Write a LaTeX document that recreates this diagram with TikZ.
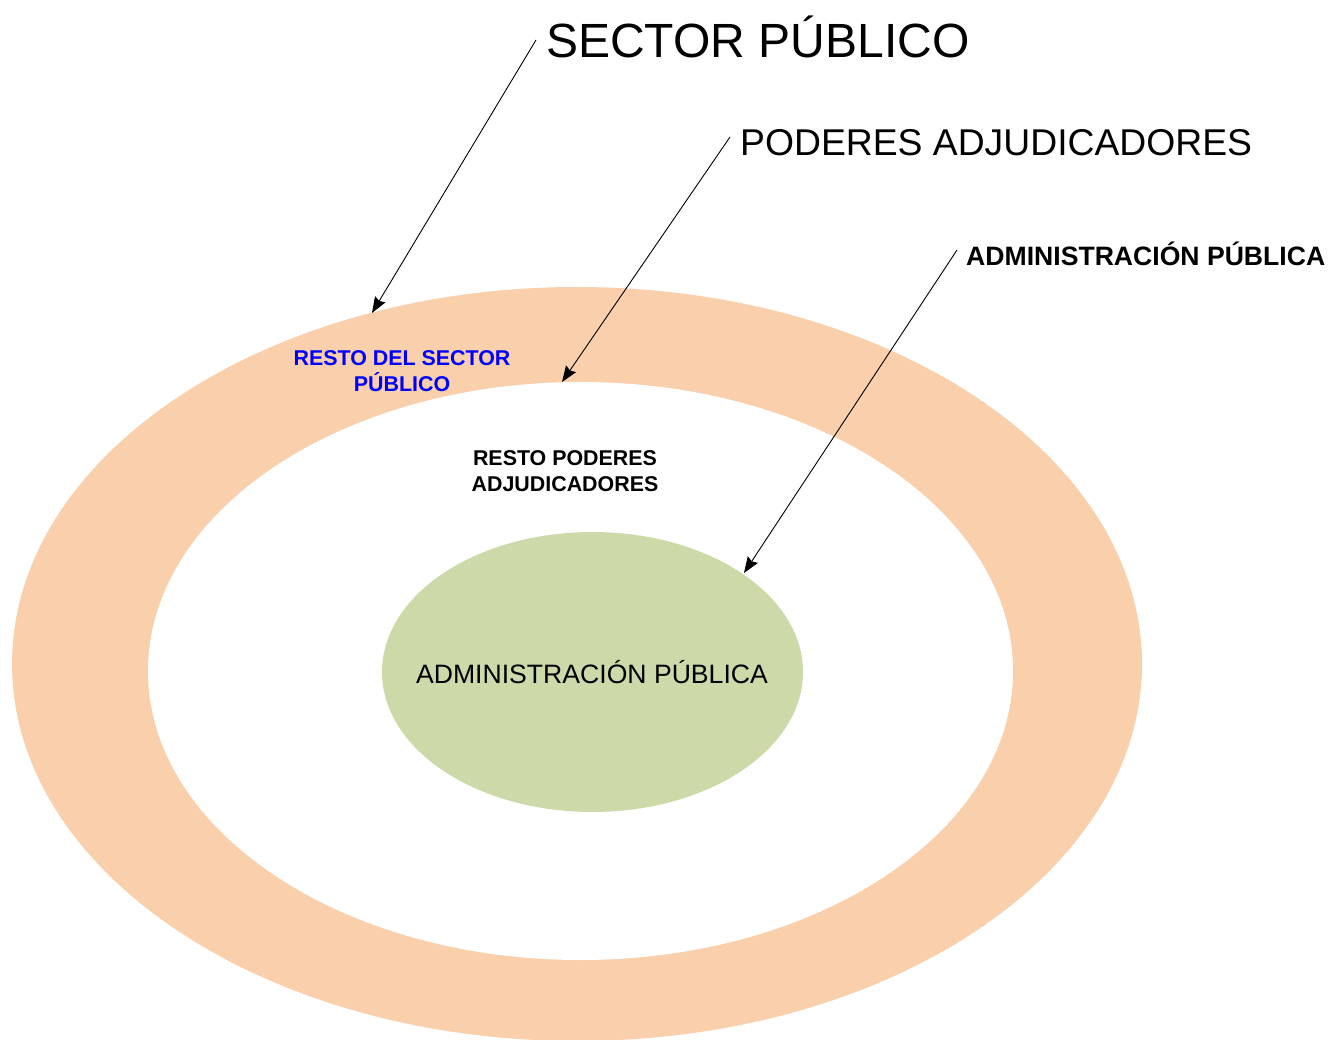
\documentclass[tikz,border=0pt]{standalone}
\usepackage{fontspec}
\setmainfont{Liberation Sans}
\usetikzlibrary{arrows.meta}
\definecolor{peach}{RGB}{250,207,171}
\definecolor{sage}{RGB}{204,218,169}
\definecolor{bluetxt}{RGB}{0,0,255}
\begin{document}
\begin{tikzpicture}[x=1pt,y=-1pt,
  pointer/.style={draw=black,line width=0.9pt,-{Stealth[length=16pt,width=12pt,inset=2pt]}},
  title/.style={anchor=west,inner sep=0pt,text=black},
  inlabel/.style={align=center,inner sep=0pt,font=\fontsize{21.4}{26.5}\selectfont\bfseries}]
\useasboundingbox (0,0) rectangle (1333,1040);
\fill[white] (0,0) rectangle (1333,1040);
% ellipses
\fill[peach] (577,664) ellipse [x radius=565, y radius=377];
\fill[white] (580.5,671) ellipse [x radius=432.5, y radius=289];
\fill[sage] (592.5,672) ellipse [x radius=210.5, y radius=140];
% texts
\node[title,font=\fontsize{48}{56}\selectfont] (sp) at (546,37) {SECTOR PÚBLICO};
\node[title,font=\fontsize{37.3}{44}\selectfont] (pa) at (740,143) {PODERES ADJUDICADORES};
\node[title,font=\fontsize{26.6}{30}\selectfont\bfseries] (ap) at (966,254) {ADMINISTRACIÓN PÚBLICA};
\node[inlabel,text=bluetxt] (rsp) at (402,371) {RESTO DEL SECTOR\\PÚBLICO};
\node[inlabel,text=black] (rpa) at (565,471) {RESTO PODERES\\ADJUDICADORES};
\node[inner sep=0pt,font=\fontsize{26.6}{30}\selectfont] (apin) at (592,672) {ADMINISTRACIÓN PÚBLICA};
% arrow ends
\coordinate (s1) at (536,40);
\coordinate (e1) at (372,313);
\coordinate (s2) at (730,137);
\coordinate (e2) at (562,382);
\coordinate (s3) at (957,250);
\coordinate (e3) at (744,573);
\draw[pointer] (s1) -- (e1);
\draw[pointer] (s2) -- (e2);
\draw[pointer] (s3) -- (e3);
\end{tikzpicture}
\end{document}
